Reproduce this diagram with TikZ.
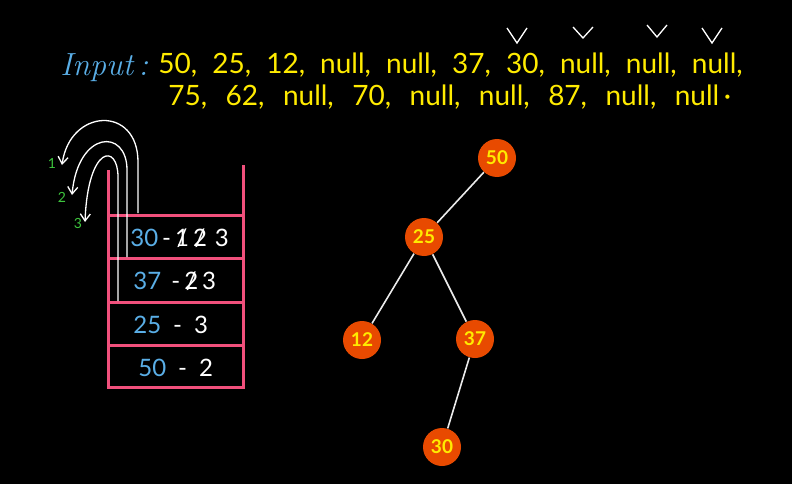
\documentclass[tikz,border=0pt]{standalone}
\usepackage{fontspec}
\usepackage{tikz}
\usetikzlibrary{arrows.meta}
\setsansfont{Lato}

\definecolor{inyellow}{HTML}{FFEB00}
\definecolor{inblue}{HTML}{5AAEE6}
\definecolor{stpink}{HTML}{F0507C}
\definecolor{nodered}{HTML}{E84A00}
\definecolor{lblgreen}{HTML}{3DC43D}
\newcommand{\crossd}[1]{\ooalign{#1\cr\hidewidth/\hidewidth\cr}}
\newcommand{\widewords}[1]{\spaceskip=#1em\relax}

\begin{document}
\begin{tikzpicture}[x=1pt, y=-1pt, thick,
	inp/.style={text=inyellow, font=\sffamily\fontsize{28}{32}\selectfont, anchor=base west, inner sep=0pt},
	cnt/.style={text=white, font=\sffamily\fontsize{24}{28}\selectfont, anchor=base west, inner sep=0pt},
	lbl/.style={text=lblgreen, font=\sffamily\fontsize{14}{16}\selectfont, inner sep=0pt},
	tnode/.style={circle, fill=nodered, minimum size=38pt, inner sep=0pt, text=inyellow, font=\sffamily\bfseries\fontsize{19}{22}\selectfont},
	tedge/.style={draw=white!92!black, line width=1.6pt},
	stk/.style={draw=stpink, line width=3pt},
	back/.style={draw=white, line width=1.3pt, -{Straight Barb[length=7pt, width=10pt]}},
	chk/.style={draw=white, line width=1.3pt}]
	\fill[black] (0,0) rectangle (792,484);
	\useasboundingbox (0,0) rectangle (792,484);

	% input
	\node[anchor=base west, inner sep=0pt, text=inblue, font=\itshape\fontsize{32}{36}\selectfont] (inlbl) at (60,76) {Input\,:};
	\node[inp] (in1) at (158,74) {\widewords{0.54}50, 25, 12, null, null, 37, 30, null, null, null,};
	\node[inp] (in2) at (168,106) {\widewords{0.66}75, 62, null, 70, null, null, 87, null, null\,·};
	\foreach \x/\y/\h in {517/28/15, 583/27/11, 657/25/12, 712/28/15}
		\draw[chk] (\x-10,\y) -- (\x,\y+\h) -- (\x+10,\y);

	% stack
	\draw[stk] (108,170) -- (108,387) -- (243,387) -- (243,165);
	\foreach \y in {215,258,302,345}
		\draw[stk] (108,\y) -- (243,\y);
	\node[cnt] (r1) at (130,246) {\textcolor{inblue}{30}\,-\,\crossd{1}\,\crossd{2}\,\,3};
	\node[cnt] (r2) at (133,289) {\textcolor{inblue}{37}\, -\,\crossd{2}\,3};
	\node[cnt] (r3) at (133,333) {\textcolor{inblue}{25}\enspace-\enspace3};
	\node[cnt] (r4) at (138,376) {\textcolor{inblue}{50}\enspace-\enspace2};

	% popped back
	\coordinate (s1) at (138,213);
	\coordinate (e1) at (62,165);
	\coordinate (s2) at (127,257);
	\coordinate (e2) at (72,195);
	\coordinate (s3) at (118,301);
	\coordinate (e3) at (85,222);
	\draw[back] (s1) -- (138,162) .. controls (138,105) and (70,108) .. (e1);
	\draw[back] (s2) -- (127,170) .. controls (127,128) and (78,130) .. (e2);
	\draw[back] (s3) -- (118,177) .. controls (118,143) and (88,145) .. (e3);
	\node[lbl] (l1) at (52,163) {1};
	\node[lbl] (l2) at (62,197) {2};
	\node[lbl] (l3) at (78,223) {3};

	% tree
	\node[tnode] (n50) at (497,158) {50};
	\node[tnode] (n25) at (424,237) {25};
	\node[tnode] (n12) at (362,340) {12};
	\node[tnode] (n37) at (475,339) {37};
	\node[tnode] (n30) at (442,447) {30};
	\draw[tedge] (n50) -- (n25);
	\draw[tedge] (n25) -- (n12);
	\draw[tedge] (n25) -- (n37);
	\draw[tedge] (n37) -- (n30);
\end{tikzpicture}
\end{document}
